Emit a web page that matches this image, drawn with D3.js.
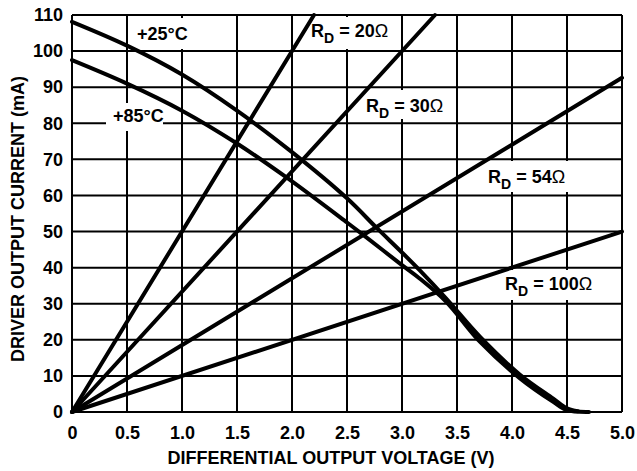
<!DOCTYPE html>
<html>
<head>
<meta charset="utf-8">
<script src="https://cdn.jsdelivr.net/npm/d3@7"></script>
<style>
  body { margin: 0; background: #fff; }
  text { font-family: "Liberation Sans", Arial, sans-serif; font-weight: bold; fill: #000; }
</style>
</head>
<body>
<script>
// values
const xTicks = [0, 0.5, 1.0, 1.5, 2.0, 2.5, 3.0, 3.5, 4.0, 4.5, 5.0];
const xTickLabels = ["0", "0.5", "1.0", "1.5", "2.0", "2.5", "3.0", "3.5", "4.0", "4.5", "5.0"];
const yTicks = [0, 10, 20, 30, 40, 50, 60, 70, 80, 90, 100, 110];

// driver curves (V, mA)
const v25 = [0, 0.5, 1.0, 1.5, 2.0, 2.5, 2.77, 3.0, 3.16, 3.4, 3.71, 4.07, 4.375, 4.5, 4.6];
const i25 = [108.1, 101.5, 93.5, 83.5, 72, 59.2, 51, 44.2, 39.3, 31.5, 20.8, 10.4, 3.7, 1.0, 0.2];
const v85 = [0, 0.5, 1.0, 1.5, 1.95, 2.5, 2.65, 3.0, 3.16, 3.4, 3.71, 4.07, 4.375, 4.5, 4.7];
const i85 = [97.5, 91, 83.5, 74.4, 65, 52.5, 49, 40.7, 37, 30.6, 19.4, 9.4, 2.8, 0.5, 0];

// load lines: end points (V, mA)
const loadNames = ["20", "30", "54", "100"];
const loadV = [[0, 2.2], [0, 3.3], [0, 5.0], [0, 5.0]];
const loadI = [[0, 110], [0, 110], [0, 92.6], [0, 50]];

const width = 637, height = 471;
const margin = { top: 15, right: 15, bottom: 59, left: 72 };

const svg = d3.select("body").append("svg")
    .attr("width", width)
    .attr("height", height);

const x = d3.scaleLinear().domain([0, 5]).range([margin.left, width - margin.right]);
const y = d3.scaleLinear().domain([0, 110]).range([height - margin.bottom, margin.top]);

// grid
svg.append("g").selectAll("line")
    .data(xTicks)
    .enter().append("line")
    .attr("x1", d => x(d)).attr("x2", d => x(d))
    .attr("y1", y(0)).attr("y2", y(110))
    .attr("stroke", "#000").attr("stroke-width", 2);

svg.append("g").selectAll("line")
    .data(yTicks)
    .enter().append("line")
    .attr("x1", x(0)).attr("x2", x(5))
    .attr("y1", d => y(d)).attr("y2", d => y(d))
    .attr("stroke", "#000").attr("stroke-width", 2);

// tick labels
const xAxis = d3.axisBottom(x).tickValues(xTicks)
    .tickFormat((d, i) => xTickLabels[i]).tickSize(0).tickPadding(14);
svg.append("g")
    .attr("transform", `translate(0,${y(0)})`)
    .call(xAxis)
    .call(g => g.select(".domain").remove())
    .call(g => g.selectAll("text").attr("font-size", 18).attr("font-family", null));

const yAxis = d3.axisLeft(y).tickValues(yTicks).tickSize(0).tickPadding(9);
svg.append("g")
    .attr("transform", `translate(${x(0)},0)`)
    .call(yAxis)
    .call(g => g.select(".domain").remove())
    .call(g => g.selectAll("text").attr("font-size", 18).attr("font-family", null));

// axis titles
svg.append("text")
    .attr("x", 331).attr("y", 464)
    .attr("text-anchor", "middle")
    .attr("font-size", 18)
    .text("DIFFERENTIAL OUTPUT VOLTAGE (V)");

svg.append("text")
    .attr("transform", "translate(24,219) rotate(-90)")
    .attr("text-anchor", "middle")
    .attr("font-size", 18)
    .text("DRIVER OUTPUT CURRENT (mA)");

// label boxes (white, hide grid)
const boxes = [
  [132, 18, 60, 31],
  [106, 103, 57, 28],
  [305, 17, 93, 32],
  [360, 90, 95, 29],
  [482, 161, 93, 31],
  [500, 270, 100, 30]
];
svg.append("g").selectAll("rect")
    .data(boxes)
    .enter().append("rect")
    .attr("x", d => d[0]).attr("y", d => d[1])
    .attr("width", d => d[2]).attr("height", d => d[3])
    .attr("fill", "#fff");

// curves
const line = d3.line().x(d => x(d[0])).y(d => y(d[1]));
const curve = d3.line().x(d => x(d[0])).y(d => y(d[1])).curve(d3.curveCatmullRom.alpha(0.5));

loadNames.forEach((n, k) => {
  svg.append("path")
      .datum(loadV[k].map((v, j) => [v, loadI[k][j]]))
      .attr("d", line)
      .attr("fill", "none").attr("stroke", "#000").attr("stroke-width", 4)
      .attr("stroke-linecap", "round");
});

[[v25, i25], [v85, i85]].forEach(([vs, is]) => {
  svg.append("path")
      .datum(vs.map((v, j) => [v, is[j]]))
      .attr("d", curve)
      .attr("fill", "none").attr("stroke", "#000").attr("stroke-width", 4)
      .attr("stroke-linejoin", "round").attr("stroke-linecap", "round");
});

// labels
svg.append("text").attr("x", 137).attr("y", 40).attr("font-size", 18).text("+25°C");
svg.append("text").attr("x", 113).attr("y", 122).attr("font-size", 18).text("+85°C");

const rLabels = [
  { name: loadNames[0], x: 311, y: 37 },
  { name: loadNames[1], x: 366, y: 112 },
  { name: loadNames[2], x: 488, y: 183 },
  { name: loadNames[3], x: 505, y: 290 }
];
rLabels.forEach(l => {
  const t = svg.append("text").attr("x", l.x).attr("y", l.y).attr("font-size", 18);
  t.append("tspan").text("R");
  t.append("tspan").attr("font-size", 14).attr("dy", 6).text("D");
  t.append("tspan").attr("dy", -6).text(" = " + l.name);
  t.append("tspan").attr("font-weight", "normal").text("Ω");
});
</script>
</body>
</html>
